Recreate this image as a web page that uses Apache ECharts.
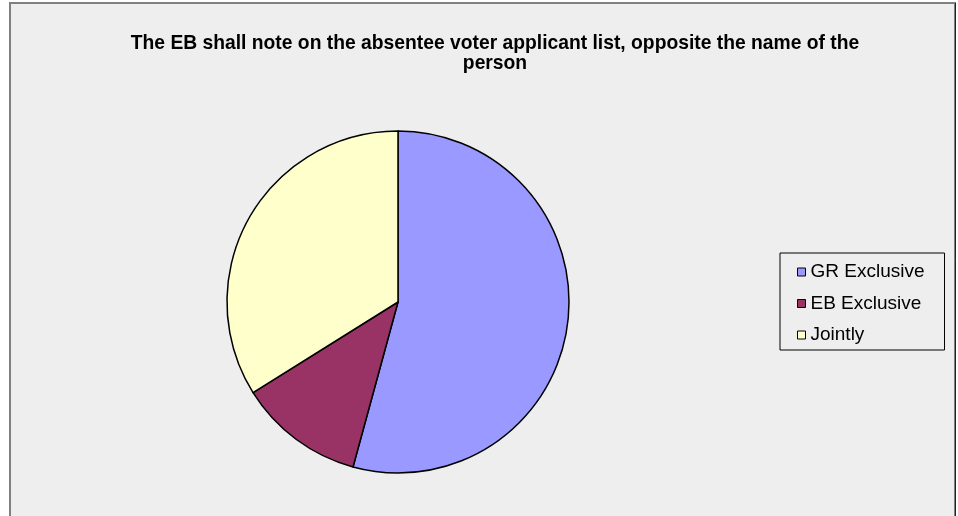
<!DOCTYPE html>
<html>
<head>
<meta charset="utf-8">
<script src="https://cdn.jsdelivr.net/npm/echarts@6/dist/echarts.min.js"></script>
<style>
html,body{margin:0;padding:0;background:#fff;}
#c{width:958px;height:516px;}
</style>
</head>
<body>
<div id="c"></div>
<script>
var categories = ['GR Exclusive', 'EB Exclusive', 'Jointly'];
var values = [32, 7, 20];
var colors = ['#9999FF', '#993366', '#FFFFCC'];
var titleText = 'The EB shall note on the absentee voter applicant list, opposite the name of the\nperson';

var chart = echarts.init(document.getElementById('c'), null, {renderer: 'canvas'});
chart.setOption({
  animation: false,
  backgroundColor: '#ffffff',
  graphic: [
    {type: 'rect', shape: {x: 10, y: 3, width: 945, height: 520},
     style: {fill: '#EEEEEE', stroke: '#808080', lineWidth: 2}, z: -10},
    {type: 'line', shape: {x1: 955.5, y1: 3, x2: 955.5, y2: 516},
     style: {stroke: '#222', lineWidth: 1}, z: -9},
    {type: 'text', x: 495, y: 54, z: 10,
     style: {text: titleText, align: 'center', verticalAlign: 'middle',
             fontFamily: 'Liberation Sans, Arial, sans-serif', fontWeight: 'bold', fontSize: 19.3, lineHeight: 20, fill: '#000'}}
  ],
  legend: {
    orient: 'vertical',
    left: 780,
    top: 253,
    padding: [9, 20, 5, 17],
    itemGap: 11.5,
    itemWidth: 8,
    itemHeight: 8,
    icon: 'rect',
    itemStyle: {borderColor: '#000', borderWidth: 1},
    borderColor: '#000',
    borderWidth: 1,
    backgroundColor: '#EEEEEE',
    textStyle: {fontFamily: 'Liberation Sans, Arial, sans-serif', fontSize: 19, lineHeight: 20, color: '#000'},
    data: categories
  },
  series: [{
    type: 'pie',
    center: [398, 302],
    radius: 171,
    startAngle: 90,
    clockwise: true,
    label: {show: false},
    labelLine: {show: false},
    emphasis: {disabled: true},
    itemStyle: {borderColor: '#000', borderWidth: 1.5},
    data: categories.map(function (c, i) {
      return {name: c, value: values[i], itemStyle: {color: colors[i]}};
    })
  }]
});
</script>
</body>
</html>
